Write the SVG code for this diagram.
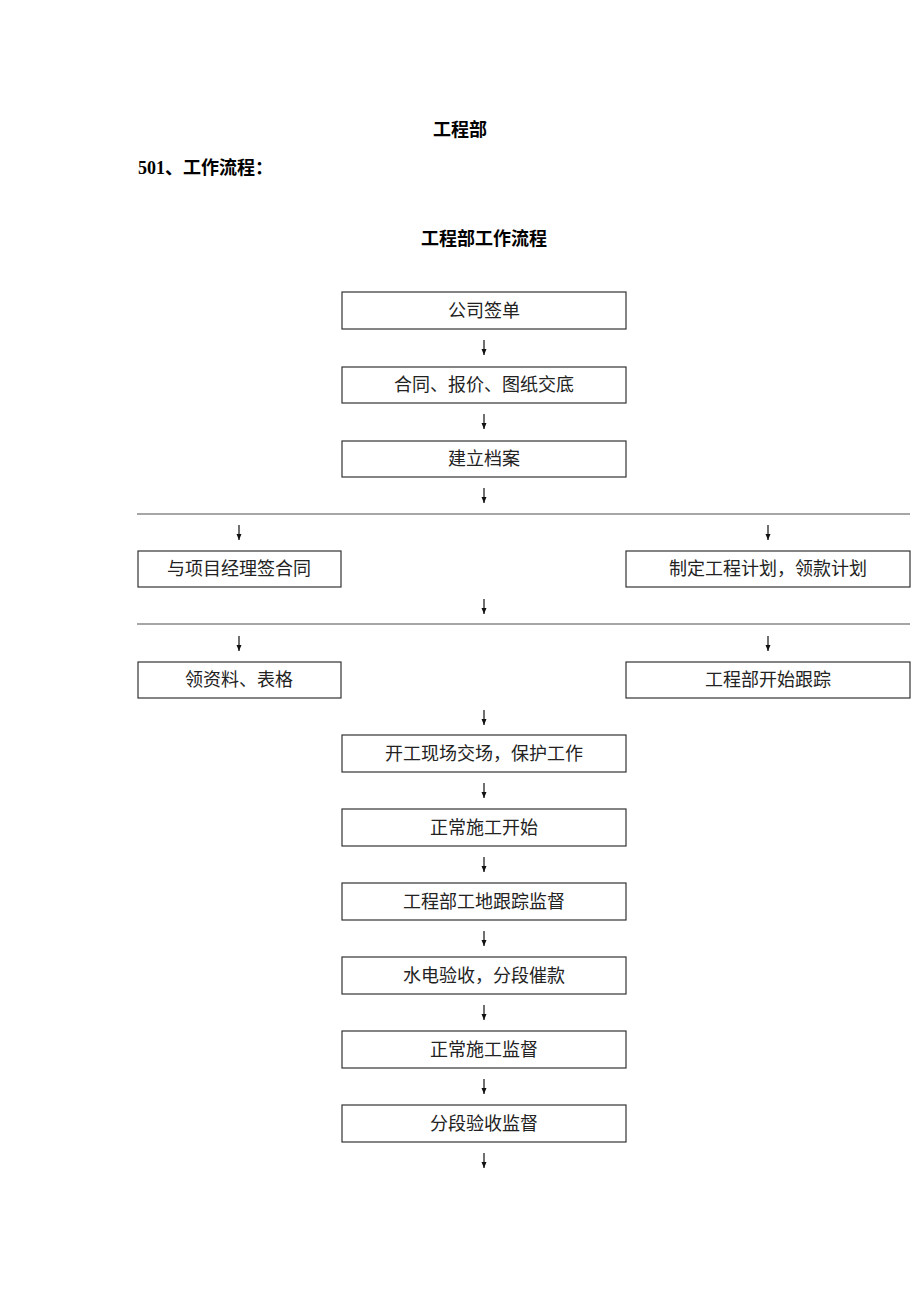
<svg xmlns="http://www.w3.org/2000/svg" width="920" height="1302" viewBox="0 0 920 1302">
<style>
.bx{fill:#fff;stroke:#333;stroke-width:1.2}
.t{font-family:"Liberation Serif","Noto Sans CJK SC",serif;font-size:18px;fill:#222;text-anchor:middle}
.h{font-family:"Liberation Serif","Noto Sans CJK SC",serif;font-size:18px;font-weight:bold;fill:#000}
.sep{stroke:#888;stroke-width:1.5}
.ar{stroke:#111;stroke-width:1.2;fill:none}
</style>
<defs>
<marker id="ah" markerWidth="8" markerHeight="6" refX="7" refY="3" orient="auto" markerUnits="userSpaceOnUse"><path d="M1,0.5 L7,3 L1,5.5 Z" fill="#111" stroke="none"/></marker>
</defs>
<rect width="920" height="1302" fill="#fff"/>
<text class="h" x="460" y="136" text-anchor="middle">工程部</text>
<text class="h" x="138" y="174">501、工作流程：</text>
<text class="h" x="484" y="245" text-anchor="middle">工程部工作流程</text>
<g id="connectors">
<line class="sep" x1="137" y1="514" x2="910" y2="514"/>
<line class="sep" x1="137" y1="624" x2="910" y2="624"/>
<g class="ar" marker-end="url(#ah)">
<line x1="484" y1="340" x2="484" y2="355"/>
<line x1="484" y1="414" x2="484" y2="429"/>
<line x1="484" y1="488" x2="484" y2="503"/>
<line x1="239" y1="525" x2="239" y2="540"/>
<line x1="768" y1="525" x2="768" y2="540"/>
<line x1="484" y1="599" x2="484" y2="614"/>
<line x1="239" y1="636" x2="239" y2="651"/>
<line x1="768" y1="636" x2="768" y2="651"/>
<line x1="484" y1="710" x2="484" y2="725"/>
<line x1="484" y1="783" x2="484" y2="798"/>
<line x1="484" y1="857" x2="484" y2="872"/>
<line x1="484" y1="931" x2="484" y2="946"/>
<line x1="484" y1="1005" x2="484" y2="1020"/>
<line x1="484" y1="1079" x2="484" y2="1094"/>
<line x1="484" y1="1153" x2="484" y2="1168"/>
</g>
</g>
<g id="n1"><rect class="bx" x="342" y="292" width="284" height="37"/><text class="t" x="484" y="317">公司签单</text></g>
<g id="n2"><rect class="bx" x="342" y="367" width="284" height="36"/><text class="t" x="484" y="391">合同、报价、图纸交底</text></g>
<g id="n3"><rect class="bx" x="342" y="441" width="284" height="36"/><text class="t" x="484" y="465">建立档案</text></g>
<g id="n4"><rect class="bx" x="138" y="551" width="203" height="36"/><text class="t" x="239" y="575">与项目经理签合同</text></g>
<g id="n5"><rect class="bx" x="626" y="551" width="284" height="36"/><text class="t" x="768" y="575">制定工程计划，领款计划</text></g>
<g id="n6"><rect class="bx" x="138" y="662" width="203" height="36"/><text class="t" x="239" y="686">领资料、表格</text></g>
<g id="n7"><rect class="bx" x="626" y="662" width="284" height="36"/><text class="t" x="768" y="686">工程部开始跟踪</text></g>
<g id="n8"><rect class="bx" x="342" y="735" width="284" height="37"/><text class="t" x="484" y="760">开工现场交场，保护工作</text></g>
<g id="n9"><rect class="bx" x="342" y="809" width="284" height="37"/><text class="t" x="484" y="834">正常施工开始</text></g>
<g id="n10"><rect class="bx" x="342" y="883" width="284" height="37"/><text class="t" x="484" y="908">工程部工地跟踪监督</text></g>
<g id="n11"><rect class="bx" x="342" y="957" width="284" height="37"/><text class="t" x="484" y="982">水电验收，分段催款</text></g>
<g id="n12"><rect class="bx" x="342" y="1031" width="284" height="37"/><text class="t" x="484" y="1056">正常施工监督</text></g>
<g id="n13"><rect class="bx" x="342" y="1105" width="284" height="37"/><text class="t" x="484" y="1130">分段验收监督</text></g>
</svg>
